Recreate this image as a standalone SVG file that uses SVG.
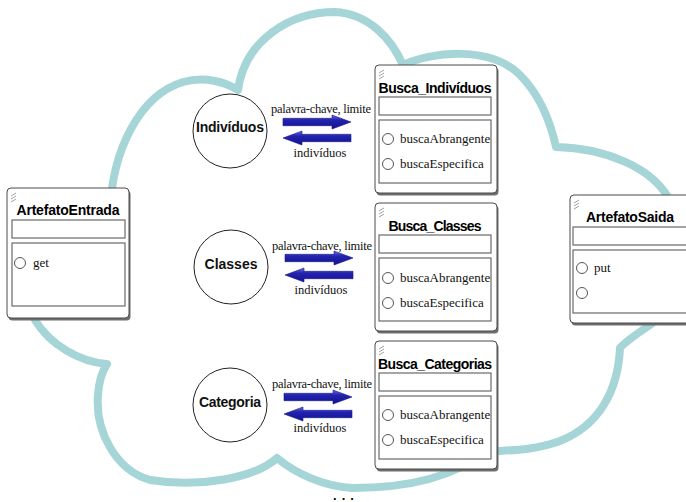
<svg xmlns="http://www.w3.org/2000/svg" xmlns:xlink="http://www.w3.org/1999/xlink" width="686" height="502" viewBox="0 0 686 502">
<style>
.cloud{fill:none;stroke:#a6d5d8;stroke-width:8;stroke-linejoin:round}
.shadow{fill:#6e6e6e}
.frame{fill:#fff;stroke:#4a4a4a;stroke-width:1}
.comp{fill:#fff;stroke:#6a6a6a;stroke-width:1.2}
.icon{fill:none;stroke:#8a8a8a;stroke-width:0.8}
.title{font-family:"Liberation Sans",Arial,sans-serif;font-weight:bold;font-size:14px;fill:#000;text-anchor:middle}
.op{font-family:"Liberation Serif","Times New Roman",serif;font-size:13px;fill:#111}
.opc{fill:#fff;stroke:#555;stroke-width:1}
.node{fill:#fff;stroke:#222;stroke-width:1}
.nlabel{font-family:"Liberation Sans",Arial,sans-serif;font-weight:bold;font-size:14px;fill:#111;text-anchor:middle}
.lbl{font-family:"Liberation Serif","Times New Roman",serif;font-size:12.5px;fill:#111;text-anchor:middle}
.arrow{fill:url(#blue);stroke:#16168a;stroke-width:0.6}
.dots{font-family:"Liberation Sans",Arial,sans-serif;font-weight:bold;font-size:13px;letter-spacing:5px;fill:#000;text-anchor:middle}
</style>
<defs>
<linearGradient id="blue" x1="0" y1="0" x2="0" y2="1">
<stop offset="0" stop-color="#7070e0"/>
<stop offset="0.35" stop-color="#2323b0"/>
<stop offset="1" stop-color="#12128e"/>
</linearGradient>
<polygon id="ar" points="0,-3.7 49,-3.7 49,-7 68,0 49,7 49,3.7 0,3.7"/>
<polygon id="al" points="68,-3.7 19,-3.7 19,-7 0,0 19,7 19,3.7 68,3.7"/>
<path id="ico" d="M0,6 l5,-3 M0,9 l5,-3 M0,12 l5,-3"/>
</defs>

<g id="cloud">
<path class="cloud" d="M238,90 C245,40 290,12 335,12 C370,14 392,40 403,65 C430,52 490,45 520,75 C540,95 550,120 556,147 C600,148 655,165 672,205 C690,260 680,300 650,325 C635,335 625,342 620,348 C618,390 600,425 560,441 C530,452 500,450 485,452 C460,472 420,488 352,488 C322,486 295,473 277,458 C255,478 200,488 150,480 C115,470 95,430 98,395 C99,380 103,370 107,364 C80,362 50,345 35,320 C20,290 40,230 110,212 C112,150 140,95 183,82 C205,76 225,82 238,90 Z"/>
</g>

<g id="connectors">
<text class="lbl" x="321" y="113" textLength="100">palavra-chave, limite</text>
<use xlink:href="#ar" class="arrow" x="283" y="122"/>
<use xlink:href="#al" class="arrow" x="283" y="138"/>
<text class="lbl" x="320" y="157">indivíduos</text>

<text class="lbl" x="322" y="250" textLength="100">palavra-chave, limite</text>
<use xlink:href="#ar" class="arrow" x="285" y="258"/>
<use xlink:href="#al" class="arrow" x="285" y="275"/>
<text class="lbl" x="321" y="294">indivíduos</text>

<text class="lbl" x="322" y="388" textLength="100">palavra-chave, limite</text>
<use xlink:href="#ar" class="arrow" x="284" y="397"/>
<use xlink:href="#al" class="arrow" x="284" y="414"/>
<text class="lbl" x="320" y="432">indivíduos</text>
</g>

<g id="node-individuos">
<circle class="node" cx="230" cy="131" r="37"/>
<text class="nlabel" x="230" y="132" textLength="68">Indivíduos</text>
</g>
<g id="node-classes">
<circle class="node" cx="231" cy="267" r="37"/>
<text class="nlabel" x="231" y="269">Classes</text>
</g>
<g id="node-categoria">
<circle class="node" cx="230" cy="405" r="37"/>
<text class="nlabel" x="230" y="407" textLength="62">Categoria</text>
</g>

<g id="busca-individuos">
<rect class="shadow" x="376.5" y="67.5" width="122" height="128" rx="4"/>
<rect class="frame" x="375" y="65" width="122" height="128" rx="4"/>
<use xlink:href="#ico" class="icon" x="379" y="67"/>
<text class="title" x="435" y="93" textLength="113">Busca_Indivíduos</text>
<rect class="comp" x="379" y="97" width="112" height="18"/>
<rect class="comp" x="379" y="120" width="112" height="63"/>
<circle class="opc" cx="388" cy="139" r="5.5"/>
<text class="op" x="400" y="143">buscaAbrangente</text>
<circle class="opc" cx="388" cy="164" r="5.5"/>
<text class="op" x="400" y="168">buscaEspecifica</text>
</g>

<g id="busca-classes">
<rect class="shadow" x="376.5" y="205.5" width="122" height="128" rx="4"/>
<rect class="frame" x="375" y="203" width="122" height="128" rx="4"/>
<use xlink:href="#ico" class="icon" x="379" y="205"/>
<text class="title" x="435" y="231" textLength="93">Busca_Classes</text>
<rect class="comp" x="379" y="235" width="112" height="18"/>
<rect class="comp" x="379" y="258" width="112" height="63"/>
<circle class="opc" cx="388" cy="278" r="5.5"/>
<text class="op" x="400" y="282">buscaAbrangente</text>
<circle class="opc" cx="388" cy="303" r="5.5"/>
<text class="op" x="400" y="307">buscaEspecifica</text>
</g>

<g id="busca-categorias">
<rect class="shadow" x="376.5" y="343.5" width="122" height="128" rx="4"/>
<rect class="frame" x="375" y="341" width="122" height="128" rx="4"/>
<use xlink:href="#ico" class="icon" x="379" y="343"/>
<text class="title" x="435" y="369" textLength="114">Busca_Categorias</text>
<rect class="comp" x="379" y="373" width="112" height="18"/>
<rect class="comp" x="379" y="396" width="112" height="63"/>
<circle class="opc" cx="388" cy="415" r="5.5"/>
<text class="op" x="400" y="419">buscaAbrangente</text>
<circle class="opc" cx="388" cy="440" r="5.5"/>
<text class="op" x="400" y="444">buscaEspecifica</text>
</g>

<g id="artefato-entrada">
<rect class="shadow" x="8.5" y="190.5" width="122" height="130" rx="4"/>
<rect class="frame" x="7" y="188" width="122" height="130" rx="4"/>
<use xlink:href="#ico" class="icon" x="11" y="190"/>
<text class="title" x="68" y="215" textLength="103">ArtefatoEntrada</text>
<rect class="comp" x="12" y="220" width="113" height="18"/>
<rect class="comp" x="12" y="243" width="113" height="63"/>
<circle class="opc" cx="20" cy="263" r="5.5"/>
<text class="op" x="33" y="267">get</text>
</g>

<g id="artefato-saida">
<rect class="shadow" x="571.5" y="197.5" width="122" height="128" rx="4"/>
<rect class="frame" x="570" y="195" width="122" height="128" rx="4"/>
<use xlink:href="#ico" class="icon" x="574" y="197"/>
<text class="title" x="630" y="222" textLength="88">ArtefatoSaida</text>
<rect class="comp" x="573" y="227" width="115" height="18"/>
<rect class="comp" x="573" y="250" width="115" height="63"/>
<circle class="opc" cx="582" cy="268" r="5.5"/>
<text class="op" x="594" y="272">put</text>
<circle class="opc" cx="582" cy="293" r="5.5"/>
</g>

<text class="dots" x="346" y="500">...</text>
</svg>
